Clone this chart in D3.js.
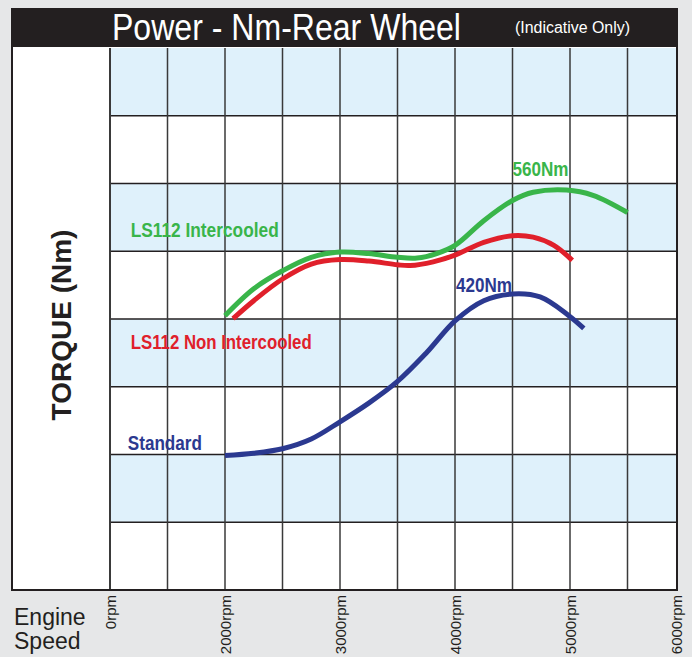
<!DOCTYPE html>
<html>
<head>
<meta charset="utf-8">
<script src="https://cdn.jsdelivr.net/npm/d3@7"></script>
<style>
  body { margin: 0; background: #e6e7e8; }
  svg { display: block; }
</style>
</head>
<body>
<div id="grafico"></div>
<script>
// data (rpm / Nm)
const intercooledRpm = [2000, 2250, 2500, 2750, 3000, 3250, 3500, 3670, 3840, 4000, 4250, 4500, 4680, 4970, 5200, 5500];
const intercooledNm = [392, 428, 452, 470, 477, 475, 470, 469, 475, 486, 519, 546, 557, 560, 553, 530];

const nonIntercooledRpm = [2070, 2250, 2500, 2750, 3000, 3250, 3500, 3610, 3810, 4000, 4250, 4500, 4680, 4860, 5020];
const nonIntercooledNm = [388, 412, 441, 461, 467, 465, 460, 459, 464, 473, 490, 499, 497, 486, 466];

const standardRpm = [2000, 2250, 2500, 2750, 3000, 3250, 3500, 3750, 4000, 4250, 4500, 4740, 4990, 5120];
const standardNm = [205, 208, 214, 227, 250, 275, 304, 342, 385, 412, 421, 417, 392, 375];

const tickRpm = [1000, 2000, 3000, 4000, 5000, 6000];
const tickLabels = ["0rpm", "2000rpm", "3000rpm", "4000rpm", "5000rpm", "6000rpm"];

const seriesNames = ["LS112 Intercooled", "LS112 Non Intercooled", "Standard"];
const seriesColors = ["#39b54a", "#e0202b", "#2b3990"];

const peakLabels = ["560Nm", "420Nm"];

const largura = 692, altura = 657;
const caixa = { left: 12, right: 677, top: 47, bottom: 590 };
const plot = { left: 110, right: 677, top: 48, bottom: 590 };
const nLinhas = 8;

const fonte = "'Liberation Sans', Arial, Helvetica, sans-serif";

const x = d3.scaleLinear().domain([1000, 6000]).range([110, 685]);
const y = d3.scaleLinear().domain([25, 750]).range([plot.bottom, plot.top]);

const svg = d3.select("#grafico")
  .append("svg")
  .attr("width", largura)
  .attr("height", altura);

svg.append("rect")
  .attr("width", largura)
  .attr("height", altura)
  .attr("fill", "#e6e7e8");

// white chart box
svg.append("rect")
  .attr("x", caixa.left)
  .attr("y", caixa.top)
  .attr("width", caixa.right - caixa.left)
  .attr("height", caixa.bottom - caixa.top)
  .attr("fill", "#fff");

// alternating bands
const alturaLinha = (plot.bottom - plot.top) / nLinhas;
svg.selectAll("rect.faixa")
  .data(d3.range(0, nLinhas, 2))
  .enter()
  .append("rect")
  .attr("class", "faixa")
  .attr("x", plot.left)
  .attr("y", d => plot.top + d * alturaLinha)
  .attr("width", plot.right - plot.left)
  .attr("height", alturaLinha)
  .attr("fill", "#dff1fb");

// horizontal grid
svg.selectAll("line.gh")
  .data(d3.range(1, nLinhas))
  .enter()
  .append("line")
  .attr("class", "gh")
  .attr("x1", plot.left)
  .attr("x2", plot.right)
  .attr("y1", d => plot.top + d * alturaLinha)
  .attr("y2", d => plot.top + d * alturaLinha)
  .attr("stroke", "#231f20")
  .attr("stroke-width", 1.5);

// vertical grid
svg.selectAll("line.gv")
  .data(d3.range(1000, 6000, 500))
  .enter()
  .append("line")
  .attr("class", "gv")
  .attr("x1", d => x(d))
  .attr("x2", d => x(d))
  .attr("y1", plot.top)
  .attr("y2", plot.bottom)
  .attr("stroke", "#3a3a3a")
  .attr("stroke-width", d => d === 1000 ? 2 : 1.5);

// box border
svg.append("path")
  .attr("d", `M${caixa.left},${caixa.top} V${caixa.bottom} H${caixa.right} V${caixa.top}`)
  .attr("fill", "none")
  .attr("stroke", "#231f20")
  .attr("stroke-width", 2);

// title bar
svg.append("rect")
  .attr("x", caixa.left - 1)
  .attr("y", 8)
  .attr("width", caixa.right - caixa.left + 2)
  .attr("height", caixa.top - 8)
  .attr("fill", "#231f20");

svg.append("text")
  .attr("x", 112)
  .attr("y", 40)
  .attr("fill", "#fff")
  .attr("font-family", fonte)
  .attr("font-size", "36px")
  .attr("textLength", 349)
  .attr("lengthAdjust", "spacingAndGlyphs")
  .text("Power - Nm-Rear Wheel");

svg.append("text")
  .attr("x", 515)
  .attr("y", 33)
  .attr("fill", "#fff")
  .attr("font-family", fonte)
  .attr("font-size", "16px")
  .attr("textLength", 115)
  .attr("lengthAdjust", "spacingAndGlyphs")
  .text("(Indicative Only)");

// curves
const linha = d3.line()
  .x(d => x(d[0]))
  .y(d => y(d[1]))
  .curve(d3.curveCatmullRom.alpha(0.5));

const series = [
  d3.zip(intercooledRpm, intercooledNm),
  d3.zip(nonIntercooledRpm, nonIntercooledNm),
  d3.zip(standardRpm, standardNm)
];

svg.selectAll("path.curva")
  .data(series)
  .enter()
  .append("path")
  .attr("class", "curva")
  .attr("d", linha)
  .attr("fill", "none")
  .attr("stroke", (d, i) => seriesColors[i])
  .attr("stroke-width", 5);

// series labels
const rotulos = [
  { texto: seriesNames[0], rpm: 1180, nm: 497, cor: seriesColors[0], w: 148 },
  { texto: seriesNames[1], rpm: 1180, nm: 347, cor: seriesColors[1], w: 181 },
  { texto: seriesNames[2], rpm: 1155, nm: 212, cor: seriesColors[2], w: 74 },
  { texto: peakLabels[0], rpm: 4500, nm: 579, cor: seriesColors[0], w: 56 },
  { texto: peakLabels[1], rpm: 4008, nm: 424, cor: seriesColors[2], w: 56 }
];

svg.selectAll("text.rotulo")
  .data(rotulos)
  .enter()
  .append("text")
  .attr("class", "rotulo")
  .attr("x", d => x(d.rpm))
  .attr("y", d => y(d.nm))
  .attr("fill", d => d.cor)
  .attr("font-family", fonte)
  .attr("font-weight", "bold")
  .attr("font-size", "20px")
  .attr("textLength", d => d.w)
  .attr("lengthAdjust", "spacingAndGlyphs")
  .text(d => d.texto);

// y title
svg.append("text")
  .attr("transform", "translate(71,325) rotate(-90)")
  .attr("text-anchor", "middle")
  .attr("fill", "#231f20")
  .attr("font-family", fonte)
  .attr("font-weight", "bold")
  .attr("font-size", "28px")
  .text("TORQUE (Nm)");

// x ticks
svg.selectAll("text.tick")
  .data(tickRpm)
  .enter()
  .append("text")
  .attr("class", "tick")
  .attr("transform", d => `translate(${Math.min(x(d), 676) + 6},595) rotate(-90)`)
  .attr("text-anchor", "end")
  .attr("fill", "#231f20")
  .attr("font-family", fonte)
  .attr("font-size", "15px")
  .text((d, i) => tickLabels[i]);

svg.append("text")
  .attr("x", 14)
  .attr("y", 625)
  .attr("fill", "#231f20")
  .attr("font-family", fonte)
  .attr("font-size", "23px")
  .selectAll("tspan")
  .data(["Engine", "Speed"])
  .enter()
  .append("tspan")
  .attr("x", 14)
  .attr("dy", (d, i) => i === 0 ? 0 : 24)
  .text(d => d);
</script>
</body>
</html>
